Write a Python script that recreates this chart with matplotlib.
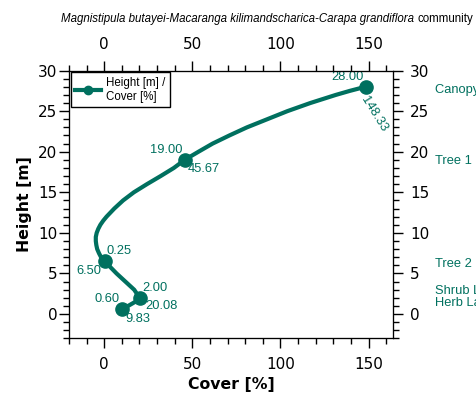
import matplotlib
matplotlib.use("Agg")
import matplotlib.pyplot as plt
from matplotlib.lines import Line2D
from matplotlib.ticker import MultipleLocator
import matplotlib.transforms as mtransforms

# measured layer points (height in m, cover in %)
point_height = [0.60, 2.00, 6.50, 19.00, 28.00]
point_cover = [9.83, 20.08, 0.25, 45.67, 148.33]

# smoothed profile
curve_height = [0.6, 1.0, 1.5, 2.0, 3.0, 4.0, 5.0, 6.0, 6.5, 7.0, 7.5, 8.0, 8.5, 9.0,
                9.5, 10.0, 10.5, 11.0, 11.5, 12.0, 13.0, 14.0, 15.0, 16.0, 17.0, 18.0,
                19.0, 20.0, 21.0, 22.0, 23.0, 24.0, 25.0, 26.0, 27.0, 27.5, 28.0]
curve_cover = [9.83, 13.5, 17.5, 20.08, 17.0, 12.0, 7.0, 2.5, 0.25, -1.8, -3.0, -4.0,
               -4.5, -4.8, -4.8, -4.3, -3.4, -2.2, -0.6, 1.3, 5.7, 10.7, 16.8, 24.2,
               32.0, 39.5, 45.67, 53.5, 61.5, 71.0, 81.0, 92.5, 104.0, 117.0, 131.5,
               139.5, 148.33]

layer_names = ["Canopy Layer", "Tree 1 Layer", "Tree 2 Layer", "Shrub Layer\nHerb Layer"]
layer_pos = [27.6, 18.8, 6.2, 2.1]

color = "#00705f"
label_font = "Liberation Sans"

fig = plt.figure(figsize=(4.76, 3.94), dpi=100)
ax = fig.add_axes([0.145, 0.141, 0.681, 0.680])

ax.plot(curve_cover, curve_height, color=color, lw=3.0, solid_capstyle="round", zorder=3)
ax.plot(point_cover, point_height, "o", color=color, ms=9.5, zorder=4)

# label offsets in pixels: (height label), (cover label)
h_off = [(-2, 4, "right", "bottom"), (3, 4, "left", "bottom"), (-3, -4, "right", "top"),
         (-2, 4, "right", "bottom"), (-2, 4, "right", "bottom")]
c_off = [(4, -4, "left", "top"), (6, -2, "left", "top"), (2, 4, "left", "bottom"),
         (3, -3, "left", "top"), (4, -4, "left", "top")]

for i, (c, h) in enumerate(zip(point_cover, point_height)):
    dx, dy, ha, va = h_off[i]
    ax.annotate(f"{h:.2f}", (c, h), xytext=(dx, dy), textcoords="offset pixels",
                ha=ha, va=va, color=color, fontsize=9.3, family=label_font, zorder=5)
    dx, dy, ha, va = c_off[i]
    if i == 4:
        ax.annotate(f"{c:.2f}", (c, h), xytext=(3, -7), textcoords="offset pixels",
                    ha="left", va="top", rotation=-58, rotation_mode="anchor",
                    color=color, fontsize=9.3, family=label_font, zorder=5)
    else:
        ax.annotate(f"{c:.2f}", (c, h), xytext=(dx, dy), textcoords="offset pixels",
                    ha=ha, va=va, color=color, fontsize=9.3, family=label_font, zorder=5)

xlim = (-20, 164)
ylim = (-3, 30)
ax.set_xlim(xlim)
ax.set_ylim(ylim)
ax.xaxis.set_major_locator(MultipleLocator(50))
ax.xaxis.set_minor_locator(MultipleLocator(10))
ax.yaxis.set_major_locator(MultipleLocator(5))
ax.yaxis.set_minor_locator(MultipleLocator(1))
ax.set_xlabel("Cover [%]", fontsize=11.3, fontweight="bold", labelpad=4)
ax.set_ylabel("Height [m]", fontsize=11.3, fontweight="bold", labelpad=4)
ax.tick_params(axis="x", which="major", length=7, width=1, labelsize=11, pad=6)
ax.tick_params(axis="x", which="minor", length=4, width=1)
ax.tick_params(axis="y", which="major", length=7, width=1, labelsize=11, pad=1.5)
ax.tick_params(axis="y", which="minor", length=4, width=1)

top = ax.twiny()
top.set_xlim(xlim)
top.xaxis.set_major_locator(MultipleLocator(50))
top.xaxis.set_minor_locator(MultipleLocator(10))
top.tick_params(axis="x", which="major", length=7, width=1, labelsize=11, pad=6)
top.tick_params(axis="x", which="minor", length=4, width=1)

right = ax.twinx()
right.set_ylim(ylim)
right.yaxis.set_major_locator(MultipleLocator(5))
right.yaxis.set_minor_locator(MultipleLocator(1))
right.tick_params(axis="y", which="major", length=7, width=1, labelsize=11, pad=5)
right.tick_params(axis="y", which="minor", length=4, width=1)

trans = mtransforms.blended_transform_factory(ax.transAxes, ax.transData)
for name, y in zip(layer_names, layer_pos):
    ax.text(1.13, y, name, transform=trans, ha="left", va="center", color=color,
            fontsize=9.3, family=label_font, clip_on=False, linespacing=1.0)

handle = Line2D([], [], color=color, lw=3.0, marker="o", ms=6)
leg = ax.legend([handle], ["Height [m] /\nCover [%]"], loc="upper left",
                prop={"family": label_font, "size": 8.3}, fancybox=False,
                framealpha=1, edgecolor="black", borderaxespad=0.15,
                handlelength=2.2, handletextpad=0.5)
leg.get_frame().set_linewidth(1.0)

fig.text(414 / 476, 0.953, "Magnistipula butayei-Macaranga kilimandscharica-Carapa grandiflora",
         ha="right", va="center", style="italic", fontsize=8.3, family=label_font)
fig.text(417 / 476, 0.953, "community", ha="left", va="center", fontsize=8.3, family=label_font)

fig.savefig("out.png", dpi=100)
